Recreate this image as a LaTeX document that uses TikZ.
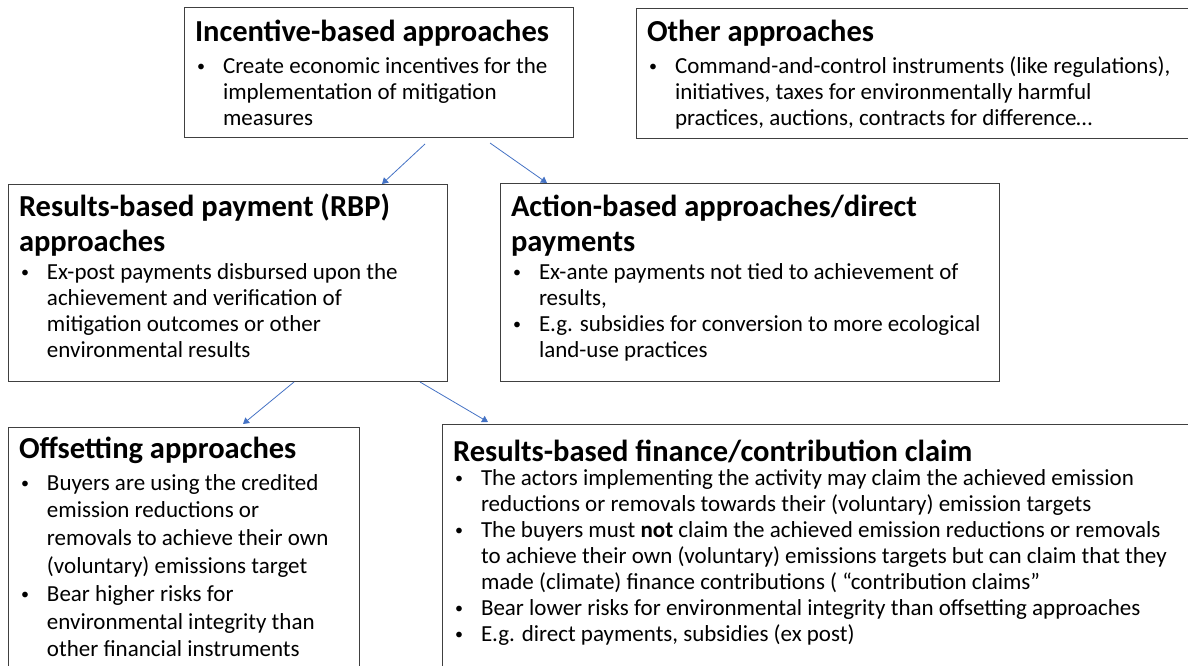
\documentclass[tikz,border=0pt]{standalone}
\usepackage{fontspec}
\setmainfont{Carlito}
\usetikzlibrary{arrows.meta}

% title line: first baseline, title skip, text
\newcommand{\boxhead}[3]{\rule{0pt}{#1pt}{\fontsize{30.5}{#2}\selectfont\bfseries #3\par}}
% body: skip, extra gap
\newcommand{\boxbody}[2]{\vspace{#2pt}\fontsize{23}{#1}\selectfont}
\newcommand{\bdot}{\raisebox{2pt}{\fontsize{16}{16}\selectfont\textbullet}}
\newcommand{\bitem}[1]{\par\hangindent=28pt\hangafter=1\noindent\hbox to 28pt{\hskip2pt\bdot\hfil}#1}
\newcommand{\boxtext}[3]{\parbox[t][#2pt][t]{#1pt}{\raggedright\lineskiplimit=-100pt\lineskip=0pt #3}}

\begin{document}
\begin{tikzpicture}[x=1pt,y=-1pt,
  box/.style={draw=black!75, line width=1pt, anchor=north west, inner xsep=11pt, inner ysep=0pt, outer sep=0pt},
  arr/.style={color={rgb,255:red,68;green,114;blue,196}, line width=0.8pt, -{Triangle[length=6pt,width=7pt]}}]
\clip (0,0) rectangle (1188,666);

\node[box] (inc) at (184,8) {\boxtext{367}{130}{%
  \boxhead{34}{35}{Incentive-based approaches}
  \boxbody{26}{6}
  \bitem{Create economic incentives for the\newline implementation of mitigation\newline measures}}};

\node[box] (oth) at (636,9) {\boxtext{542}{130}{%
  \boxhead{33}{35}{Other approaches}
  \boxbody{26}{6}
  \bitem{Command-and-control instruments (like regulations),\newline initiatives, taxes for environmentally harmful\newline practices, auctions, contracts for difference…}}};

\node[box] (rbp) at (8,184) {\boxtext{417}{197}{%
  \boxhead{32}{35}{Results-based payment (RBP)\newline approaches}
  \boxbody{26}{2}
  \bitem{Ex-post payments disbursed upon the\newline achievement and verification of\newline mitigation outcomes or other\newline environmental results}}};

\node[box] (act) at (500,183) {\boxtext{477}{198}{%
  \boxhead{33}{35}{Action-based approaches/direct\newline payments}
  \boxbody{26}{2}
  \bitem{Ex-ante payments not tied to achievement of\newline results,}
  \bitem{E.g. subsidies for conversion to more ecological\newline land-use practices}}};

\node[box] (off) at (8,427) {\boxtext{329}{273}{%
  \boxhead{31}{35}{Offsetting approaches}
  \boxbody{27.8}{4.2}
  \bitem{Buyers are using the credited\newline emission reductions or\newline removals to achieve their own\newline (voluntary) emissions target}
  \bitem{Bear higher risks for\newline environmental integrity than\newline other financial instruments}}};

\node[box] (rbf) at (442,424) {\boxtext{736}{276}{%
  \boxhead{37}{35}{Results-based finance/contribution claim}
  \boxbody{26}{-2}
  \bitem{The actors implementing the activity may claim the achieved emission\newline reductions or removals towards their (voluntary) emission targets}
  \bitem{The buyers must \textbf{not} claim the achieved emission reductions or removals\newline to achieve their own (voluntary) emissions targets but can claim that they\newline made (climate) finance contributions ( “contribution claims”}
  \bitem{Bear lower risks for environmental integrity than offsetting approaches}
  \bitem{E.g. direct payments, subsidies (ex post)}}};

\draw[arr] ([xshift=46.5pt,yshift=-6pt]inc.south) -- ([xshift=-65pt]rbp.north east);
\draw[arr] ([xshift=111.5pt,yshift=-5pt]inc.south) -- ([xshift=47pt]act.north west);
\draw[arr] ([xshift=66.5pt,yshift=-1pt]rbp.south) -- ([xshift=-116pt,yshift=3pt]off.north east);
\draw[arr] ([xshift=-27pt,yshift=-1pt]rbp.south east) -- ([xshift=46pt,yshift=2pt]rbf.north west);
\end{tikzpicture}
\end{document}
